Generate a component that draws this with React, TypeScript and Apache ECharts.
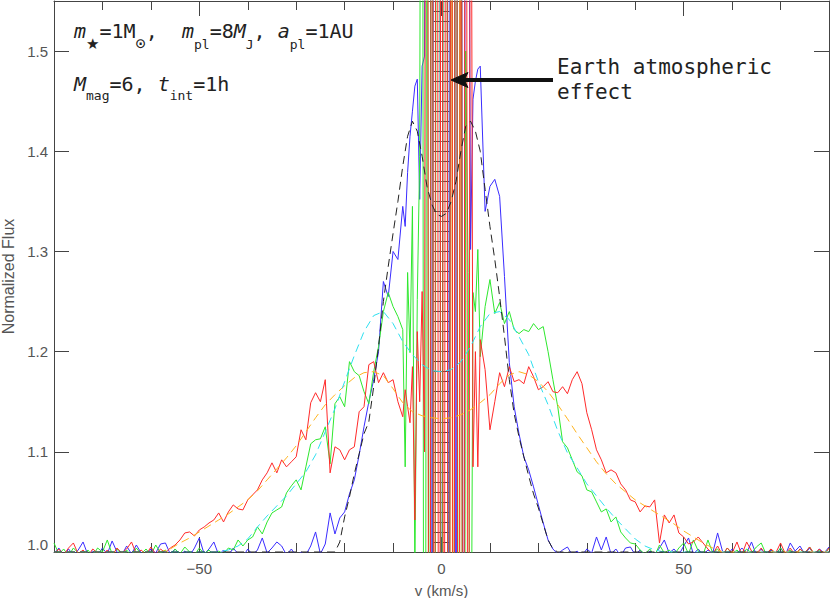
import React, { useEffect, useRef } from 'react';
import * as echarts from 'echarts';

// ---------- helpers for velocity grids ----------
function seq(a: number, b: number, step: number): number[] {
  const n = Math.round((b - a) / step);
  return Array.from({ length: n + 1 }, (_, i) => +(a + i * step).toFixed(2));
}
function pairs(vs: number[], fs: number[]): number[][] {
  return vs.map((v, i) => [v, fs[i]]);
}

// ---------- axis / label values ----------
const X_MIN = -80;
const X_MAX = 80;
const Y_MIN = 1.0;
const Y_MAX = 1.55;
const X_MAJOR = [-50, 0, 50];
const Y_MAJOR = [1.0, 1.1, 1.2, 1.3, 1.4, 1.5];
const X_TITLE = 'v (km/s)';
const Y_TITLE = 'Normalized Flux';

// ---------- velocity grids of the simulated (noisy) spectra ----------
const WING_LEFT_V = seq(-80, -9, 1);
const CENTER_V = seq(-8, 8, 0.5);
const WING_RIGHT_V = seq(9, 80, 1);

// ---------- blue spectrum (narrow profile) ----------
const BLUE_LEFT = [
  0.998, 1.004, 0.996, 1.003, 0.997, 1.002, 1.010, 0.997, 1.001, 0.996,
  1.004, 0.998, 1.011, 1.000, 0.997, 1.006, 0.998, 1.007, 0.999, 0.996,
  1.003, 0.999, 1.008, 1.009, 0.998, 1.003, 0.997, 1.001, 0.996, 1.004,
  1.014, 0.998, 1.003, 1.010, 0.997, 1.002, 0.996, 1.004, 0.998, 0.995,
  1.003, 0.997, 1.002, 1.014, 0.999, 1.004, 1.010, 1.006, 0.997, 1.003,
  0.996, 1.000, 0.997, 1.006, 1.020, 0.998, 1.008, 1.039, 1.018, 1.034,
  1.040, 1.058, 1.072, 1.097, 1.125, 1.150, 1.172, 1.200, 1.270, 1.255,
  1.300, 1.292,
];
const BLUE_CENTER = [
  1.345, 1.325, 1.379, 1.415, 1.440, 1.465, 1.472, 1.352, 1.485, 1.495,
  2.6, 2.8, 0.4, 2.5, 2.7, 2.4, 0.3, 2.6, 2.9, 0.5,
  2.7, 2.6, 0.4, 2.8, 2.5, 0.2, 2.2, 1.9, 1.302, 1.452,
  1.470, 1.482, 1.485,
];
const BLUE_RIGHT = [
  1.340, 1.365, 1.372, 1.355, 1.275, 1.189, 1.145, 1.118, 1.095, 1.082,
  1.065, 1.047, 1.029, 1.012, 1.003, 0.998, 1.002, 1.005, 0.997, 1.001,
  0.996, 1.003, 0.999, 1.015, 1.002, 1.015, 0.998, 1.003, 0.996, 1.004,
  1.005, 0.997, 1.002, 0.996, 1.001, 0.998, 1.004, 1.012, 0.999, 1.003,
  0.997, 1.006, 1.014, 0.998, 1.003, 0.997, 1.002, 0.999, 1.019, 1.001,
  0.997, 1.003, 0.998, 1.004, 0.999, 1.010, 0.997, 1.003, 0.996, 1.002,
  0.998, 1.004, 0.997, 1.009, 1.001, 1.006, 0.998, 1.004, 0.997, 1.003,
  0.999, 1.005,
];

// ---------- green spectrum (medium profile) ----------
const GREEN_LEFT = [
  1.009, 0.998, 1.003, 0.996, 1.004, 0.999, 0.997, 1.002, 0.996, 1.004,
  1.000, 1.012, 0.998, 1.003, 0.997, 1.002, 0.996, 1.004, 0.998, 1.003,
  0.997, 1.007, 0.999, 1.002, 0.996, 1.003, 0.998, 1.005, 1.000, 0.997,
  1.004, 0.998, 1.002, 0.996, 1.001, 0.998, 1.004, 1.002, 1.012, 1.006,
  1.012, 1.015, 1.025, 1.018, 1.030, 1.039, 1.042, 1.045, 1.059, 1.066,
  1.072, 1.062, 1.085, 1.108, 1.112, 1.113, 1.125, 1.088, 1.148, 1.155,
  1.145, 1.190, 1.180, 1.176, 1.160, 1.148, 1.180, 1.205, 1.240, 1.259,
  1.245, 1.235,
];
const GREEN_CENTER = [
  1.222, 1.085, 1.279, 1.199, 1.345, 0.98, 1.252, 1.395, 2.5, -0.3,
  2.2, 0.3, 2.6, -0.2, 2.3, 2.7, 0.1, 2.5, 2.4, -0.1,
  2.4, 0.2, 2.6, 0.3, 2.3, -0.2, 1.5, 1.279, 0.7, 1.259,
  1.240, 1.302, 1.195,
];
const GREEN_RIGHT = [
  1.245, 1.272, 1.238, 1.249, 1.228, 1.240, 1.222, 1.218, 1.222, 1.220,
  1.228, 1.222, 1.225, 1.200, 1.172, 1.145, 1.110, 1.104, 1.092, 1.080,
  1.076, 1.062, 1.060, 1.050, 1.040, 1.043, 1.030, 1.035, 1.020, 1.014,
  1.009, 1.008, 1.002, 0.998, 1.003, 0.996, 1.007, 0.999, 1.002, 0.997,
  1.004, 1.009, 0.998, 1.012, 1.001, 0.997, 1.012, 0.999, 1.003, 0.996,
  1.004, 0.998, 1.002, 0.997, 1.003, 0.999, 1.005, 1.009, 0.998, 1.003,
  0.997, 1.004, 0.998, 1.002, 0.996, 1.003, 0.999, 1.005, 0.997, 1.002,
  0.998, 1.004,
];

// ---------- red spectrum (wide profile) ----------
const RED_LEFT = [
  0.998, 1.003, 0.997, 1.004, 1.009, 0.998, 1.002, 0.996, 1.003, 0.999,
  0.997, 1.002, 0.996, 1.004, 0.999, 1.003, 1.010, 0.998, 1.002, 0.997,
  1.005, 0.998, 1.003, 0.999, 1.004, 1.007, 1.012, 1.019, 1.020, 1.016,
  1.022, 1.025, 1.029, 1.032, 1.039, 1.030, 1.040, 1.047, 1.043, 1.042,
  1.052, 1.057, 1.062, 1.072, 1.079, 1.089, 1.079, 1.092, 1.085, 1.090,
  1.095, 1.122, 1.112, 1.149, 1.159, 1.150, 1.172, 1.079, 1.105, 1.102,
  1.092, 1.102, 1.105, 1.140, 1.145, 1.187, 1.190, 1.169, 1.179, 1.169,
  1.172, 1.150,
];
const RED_CENTER = [
  1.135, 1.162, 1.145, 1.129, 1.185, 1.032, 1.22, 1.15, 1.26, 1.10,
  3.0, -0.5, 2.7, 0.0, 3.1, -0.2, 2.6, 0.2, 2.8, -0.4,
  2.5, 0.1, 2.9, -0.3, 2.4, 0.0, 2.6, 0.3, 2.0, 1.085,
  1.200, 1.085, 1.212,
];
const RED_RIGHT = [
  1.182, 1.122, 1.150, 1.179, 1.165, 1.185, 1.170, 1.172, 1.168, 1.185,
  1.175, 1.162, 1.165, 1.170, 1.160, 1.159, 1.165, 1.158, 1.172, 1.180,
  1.168, 1.139, 1.122, 1.102, 1.092, 1.079, 1.082, 1.079, 1.068, 1.062,
  1.052, 1.050, 1.040, 1.046, 1.045, 1.052, 1.009, 1.037, 1.029, 1.037,
  1.019, 1.015, 1.008, 1.010, 1.015, 1.009, 1.003, 0.998, 1.006, 0.997,
  1.004, 0.999, 1.010, 0.997, 1.010, 1.001, 0.998, 1.004, 0.997, 1.003,
  0.999, 1.009, 0.998, 1.004, 0.997, 1.003, 0.999, 1.005, 0.998, 1.003,
  0.997, 1.004,
];

// ---------- extra atmospheric residual (orange) ----------
const ORANGE_RES_V = [2.0, 2.5, 3.5, 4.0];
const ORANGE_RES_F = [3.0, -1.0, -1.0, 3.0];

// ---------- model profiles (dashed) ----------
const BLACK_V = [-80, -24, ...seq(-22, 24, 1), 80];
const BLACK_F = [
  1.0, 1.0,
  1.0, 1.01, 1.035, 1.055, 1.078, 1.098, 1.118, 1.13, 1.165, 1.205,
  1.25, 1.285, 1.318, 1.35, 1.385, 1.415, 1.43, 1.42, 1.395, 1.365,
  1.347, 1.337, 1.335, 1.338, 1.35, 1.37, 1.40, 1.425, 1.43, 1.42,
  1.40, 1.362, 1.325, 1.292, 1.255, 1.215, 1.172, 1.138, 1.115, 1.095,
  1.076, 1.058, 1.044, 1.028, 1.012, 1.003, 1.0,
  1.0,
];
const CYAN_V = [-80, ...seq(-46, 46, 2), 80];
const CYAN_F = [
  1.0,
  1.0, 1.002, 1.006, 1.013, 1.025, 1.036, 1.046, 1.056, 1.068, 1.08,
  1.097, 1.12, 1.143, 1.17, 1.196, 1.22, 1.236, 1.24, 1.228, 1.21,
  1.197, 1.187, 1.181, 1.18, 1.182, 1.19, 1.205, 1.225, 1.238, 1.24,
  1.232, 1.215, 1.197, 1.17, 1.147, 1.121, 1.099, 1.084, 1.068, 1.056,
  1.044, 1.033, 1.023, 1.013, 1.006, 1.002, 1.0,
  1.0,
];
const ORANGE_V = [-80, ...seq(-58, 58, 2), 80];
const ORANGE_F = [
  1.0,
  1.0, 1.003, 1.009, 1.014, 1.02, 1.026, 1.032, 1.038, 1.045, 1.052,
  1.061, 1.072, 1.083, 1.094, 1.106, 1.12, 1.134, 1.147, 1.157, 1.166,
  1.174, 1.179, 1.18, 1.176, 1.163, 1.149, 1.14, 1.136, 1.134, 1.133,
  1.134, 1.137, 1.142, 1.149, 1.157, 1.168, 1.177, 1.18, 1.177, 1.17,
  1.16, 1.147, 1.133, 1.118, 1.104, 1.09, 1.078, 1.068, 1.06, 1.052,
  1.046, 1.04, 1.034, 1.028, 1.021, 1.015, 1.009, 1.004, 1.0,
  1.0,
];

// ---------- annotation texts ----------
const NOTE_LINE1 = '{i|m}{st|★}{n|=1M}{o|⊙}{n|,  }{i|m}{s|pl}{n|=8}{i|M}{s|J}{n|, }{i|a}{s|pl}{n|=1AU}';
const NOTE_LINE2 = '{i|M}{s|mag}{n|=6, }{i|t}{s|int}{n|=1h}';
const NOTE_EARTH = 'Earth atmospheric\neffect';

// ---------- styling ----------
const AX = '#444';
const LABEL = '#555';
const FONT = '"Liberation Sans", Arial, sans-serif';
const MONO = '"DejaVu Sans Mono", monospace';
const BLUE = '#3a2cff';
const GREEN = '#2ee82e';
const RED = '#ff2a2a';
const INK = '#222';

const RICH = {
  n: { fontSize: 20, fontFamily: MONO, fill: INK, height: 20, lineHeight: 28, verticalAlign: 'top' },
  i: { fontSize: 20, fontFamily: MONO, fontStyle: 'italic', fill: INK, height: 20, lineHeight: 28, verticalAlign: 'top' },
  s: { fontSize: 13, fontFamily: MONO, fill: INK, height: 13, lineHeight: 28, verticalAlign: 'bottom' },
  st: { fontSize: 15, fontFamily: '"DejaVu Sans", sans-serif', fill: INK, height: 15, lineHeight: 28, verticalAlign: 'bottom' },
  o: { fontSize: 17, fontFamily: MONO, fill: INK, height: 17, lineHeight: 30, verticalAlign: 'bottom' },
};

function noisySeries(name: string, color: string, left: number[], center: number[], right: number[], z: number) {
  return {
    type: 'line',
    name,
    data: [...pairs(WING_LEFT_V, left), ...pairs(CENTER_V, center), ...pairs(WING_RIGHT_V, right)],
    symbol: 'none',
    clip: true,
    z,
    lineStyle: { color, width: 1 },
    itemStyle: { color },
  };
}
function dashedSeries(name: string, color: string, vs: number[], fs: number[], z: number) {
  return {
    type: 'line',
    name,
    data: pairs(vs, fs),
    symbol: 'none',
    clip: true,
    z,
    lineStyle: { color, width: 1, type: [8, 5] },
    itemStyle: { color },
  };
}

const xMinorTicks = { show: true, inside: true, length: 9, lineStyle: { color: AX, width: 1 } };
const yMinorTicks = { show: true, inside: true, length: 8, lineStyle: { color: AX, width: 1 } };

function buildOption() {
  const baseX = { type: 'value', min: X_MIN, max: X_MAX, gridIndex: 0, splitLine: { show: false } };
  const baseY = { type: 'value', min: Y_MIN, max: Y_MAX, gridIndex: 0, splitLine: { show: false } };
  return {
    animation: false,
    backgroundColor: '#ffffff',
    grid: { left: 54, right: 1, top: 1, bottom: 46, containLabel: false, outerBoundsMode: 'none' },
    xAxis: [
      {
        ...baseX,
        position: 'bottom',
        axisLine: { show: true, onZero: false, lineStyle: { color: AX, width: 1 } },
        axisTick: { show: true, inside: true, length: 15, customValues: X_MAJOR, lineStyle: { color: AX, width: 1 } },
        axisLabel: {
          show: true,
          customValues: X_MAJOR,
          formatter: (v: number) => (v < 0 ? '\u2212' + Math.abs(v) : String(v)),
          color: LABEL,
          fontSize: 15,
          fontFamily: FONT,
          margin: 9,
        },
        name: X_TITLE,
        nameLocation: 'middle',
        nameGap: 31,
        nameTextStyle: { color: LABEL, fontSize: 15, fontFamily: FONT },
      },
      { ...baseX, position: 'bottom', interval: 10, axisLine: { show: false }, axisTick: xMinorTicks, axisLabel: { show: false } },
      {
        ...baseX,
        position: 'top',
        axisLine: { show: true, onZero: false, lineStyle: { color: AX, width: 1 } },
        axisTick: { show: true, inside: true, length: 15, customValues: X_MAJOR, lineStyle: { color: AX, width: 1 } },
        axisLabel: { show: false },
      },
      { ...baseX, position: 'top', interval: 10, axisLine: { show: false }, axisTick: xMinorTicks, axisLabel: { show: false } },
    ],
    yAxis: [
      {
        ...baseY,
        position: 'left',
        axisLine: { show: true, onZero: false, lineStyle: { color: AX, width: 1 } },
        axisTick: { show: true, inside: true, length: 15, customValues: Y_MAJOR, lineStyle: { color: AX, width: 1 } },
        axisLabel: {
          show: true,
          customValues: Y_MAJOR,
          formatter: (v: number) => v.toFixed(1),
          color: LABEL,
          fontSize: 15,
          fontFamily: FONT,
          margin: 6,
          verticalAlignMinLabel: 'bottom',
        },
        name: Y_TITLE,
        nameLocation: 'middle',
        nameRotate: 90,
        nameGap: 38,
        nameTextStyle: { color: LABEL, fontSize: 16, fontFamily: FONT },
      },
      { ...baseY, position: 'left', interval: 0.01, axisLine: { show: false }, axisTick: yMinorTicks, axisLabel: { show: false } },
      {
        ...baseY,
        position: 'right',
        axisLine: { show: true, onZero: false, lineStyle: { color: AX, width: 1 } },
        axisTick: { show: true, inside: true, length: 15, customValues: Y_MAJOR, lineStyle: { color: AX, width: 1 } },
        axisLabel: { show: false },
      },
      { ...baseY, position: 'right', interval: 0.01, axisLine: { show: false }, axisTick: yMinorTicks, axisLabel: { show: false } },
    ],
    series: [
      noisySeries('blue', BLUE, BLUE_LEFT, BLUE_CENTER, BLUE_RIGHT, 2),
      noisySeries('green', GREEN, GREEN_LEFT, GREEN_CENTER, GREEN_RIGHT, 3),
      {
        type: 'line',
        name: 'residual',
        data: pairs(ORANGE_RES_V, ORANGE_RES_F),
        symbol: 'none',
        clip: true,
        z: 3,
        lineStyle: { color: '#ffa500', width: 1 },
      },
      noisySeries('red', RED, RED_LEFT, RED_CENTER, RED_RIGHT, 4),
      dashedSeries('wide model', '#ffb41e', ORANGE_V, ORANGE_F, 6),
      dashedSeries('medium model', '#2ee0f0', CYAN_V, CYAN_F, 6),
      dashedSeries('narrow model', '#222222', BLACK_V, BLACK_F, 7),
    ],
    graphic: [
      {
        type: 'text',
        left: 74,
        top: 21,
        z: 100,
        style: { text: NOTE_LINE1, fill: INK, rich: RICH },
      },
      {
        type: 'text',
        left: 74,
        top: 74,
        z: 100,
        style: { text: NOTE_LINE2, fill: INK, rich: RICH },
      },
      {
        type: 'text',
        left: 557,
        top: 54,
        z: 100,
        style: { text: NOTE_EARTH, fontSize: 21, fontFamily: MONO, fill: INK, lineHeight: 25 },
      },
      {
        type: 'line',
        z: 100,
        shape: { x1: 464, y1: 80, x2: 553, y2: 80 },
        style: { stroke: '#111', lineWidth: 4 },
      },
      {
        type: 'polygon',
        z: 100,
        shape: { points: [[451, 80], [468, 72.5], [464, 80], [468, 87.5]] },
        style: { fill: '#111', stroke: '#111', lineWidth: 1 },
      },
    ],
  };
}

export default function App() {
  const ref = useRef<HTMLDivElement>(null);
  useEffect(() => {
    if (!ref.current) return;
    const chart = echarts.init(ref.current, null, { renderer: 'svg' });
    chart.setOption(buildOption() as any);
    return () => chart.dispose();
  }, []);
  return (
    <div
      ref={ref}
      style={{ position: 'fixed', left: 0, top: 0, width: 830, height: 598, background: '#ffffff' }}
    />
  );
}
